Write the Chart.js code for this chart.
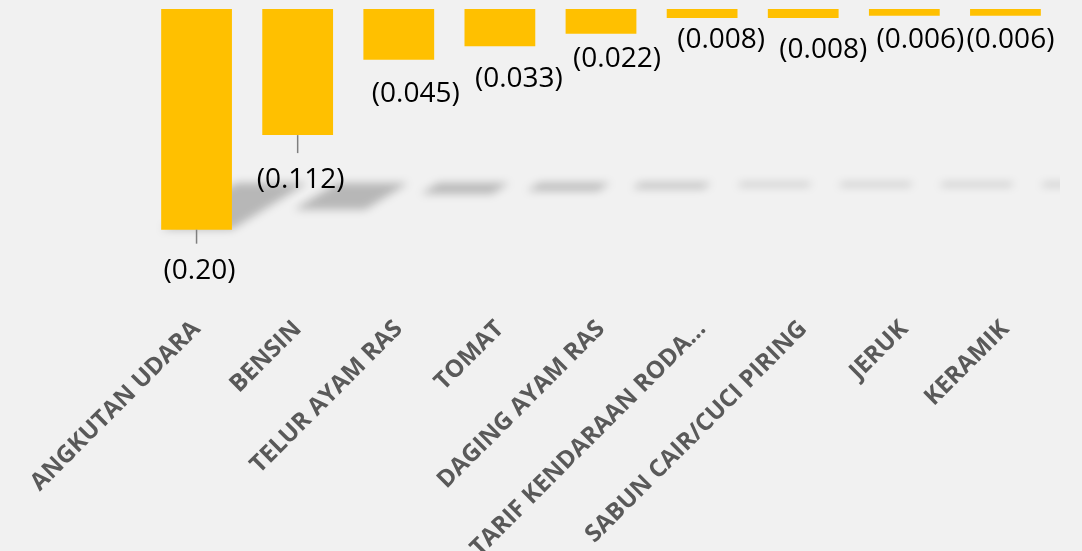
<!DOCTYPE html>
<html>
<head>
<meta charset="utf-8">
<script src="https://cdn.jsdelivr.net/npm/chart.js@4.4.1/dist/chart.umd.min.js"></script>
<style>
  html, body { margin: 0; padding: 0; background: #f1f1f1; }
  #wrap { width: 1082px; height: 551px; position: relative; }
</style>
</head>
<body>
<div id="wrap"><canvas id="myChart"></canvas></div>
<script>
const categories = ["ANGKUTAN UDARA", "BENSIN", "TELUR AYAM RAS", "TOMAT", "DAGING AYAM RAS",
  "TARIF KENDARAAN RODA...", "SABUN CAIR/CUCI PIRING", "JERUK", "KERAMIK"];
const values = [-0.196, -0.112, -0.045, -0.033, -0.022, -0.008, -0.008, -0.006, -0.006];
const valueLabels = ["(0.20)", "(0.112)", "(0.045)", "(0.033)", "(0.022)", "(0.008)", "(0.008)", "(0.006)", "(0.006)"];

// where each data label sits, measured from the end of its bar
const labelOffsets = [[3, 41], [3, 45], [17, 34], [19, 33], [16, 25], [19, 22], [20, 32], [16, 24], [5, 24]];
const leaderLines = [true, true, false, false, false, false, false, false, false];

// soft perspective shadow cast behind the bars
const barShadow = {
  id: 'barShadow',
  beforeDatasetsDraw(chart) {
    const ctx = chart.ctx;
    const area = chart.chartArea;
    const base = chart.scales.y.getPixelForValue(0);
    const horizon = base + 174;
    const proj = (px, py) => [px + 75 - 0.34 * (py - base), horizon + 0.21 * (py - base)];
    ctx.save();
    ctx.beginPath();
    ctx.rect(0, 0, area.right + 4, chart.height);
    ctx.clip();
    ctx.filter = 'blur(4px)';
    ctx.fillStyle = 'rgba(0,0,0,0.24)';
    chart.getDatasetMeta(0).data.forEach((bar) => {
      const { x, y, width } = bar.getProps(['x', 'y', 'width'], true);
      const yy = Math.max(y, base + 14);
      const l = x - width / 2, r = x + width / 2;
      const p = [proj(l, base), proj(r, base), proj(r, yy), proj(l, yy)];
      ctx.beginPath();
      ctx.moveTo(p[0][0], p[0][1]);
      p.slice(1).forEach((q) => ctx.lineTo(q[0], q[1]));
      ctx.closePath();
      ctx.fill();
    });
    ctx.restore();
  }
};

const valueLabelPlugin = {
  id: 'valueLabels',
  afterDatasetsDraw(chart) {
    const ctx = chart.ctx;
    ctx.save();
    ctx.font = '28px "Open Sans"';
    ctx.fillStyle = '#000';
    ctx.textAlign = 'center';
    ctx.textBaseline = 'middle';
    chart.getDatasetMeta(0).data.forEach((bar, i) => {
      const { x, y } = bar.getProps(['x', 'y'], true);
      const [dx, dy] = labelOffsets[i];
      if (leaderLines[i]) {
        ctx.strokeStyle = '#7f7f7f';
        ctx.lineWidth = 1.5;
        ctx.beginPath();
        ctx.moveTo(x, y);
        ctx.lineTo(x, y + dy - 27);
        ctx.stroke();
      }
      ctx.fillText(valueLabels[i], x + dx, y + dy);
    });
    ctx.restore();
  }
};

const data = {
  labels: categories,
  datasets: [{
    data: values,
    backgroundColor: '#ffc000',
    borderWidth: 0,
    categoryPercentage: 1,
    barPercentage: 0.7
  }]
};

const config = {
  type: 'bar',
  data: data,
  options: {
    responsive: true,
    maintainAspectRatio: false,
    animation: false,
    layout: { padding: { top: 9, left: 146, right: 26, bottom: 0 } },
    plugins: { legend: { display: false }, tooltip: { enabled: false } },
    scales: {
      x: {
        grid: { display: false, drawTicks: false },
        border: { display: false },
        ticks: {
          autoSkip: false,
          minRotation: 45,
          maxRotation: 45,
          padding: 2,
          color: '#595959',
          font: { family: 'Open Sans', weight: 'bold', size: 24 }
        },
        afterFit: (scale) => { scale.height = 238; }
      },
      y: {
        display: false,
        min: -0.270,
        max: 0
      }
    }
  },
  plugins: [barShadow, valueLabelPlugin]
};

const myChart = new Chart(document.getElementById('myChart'), config);
</script>
</body>
</html>
